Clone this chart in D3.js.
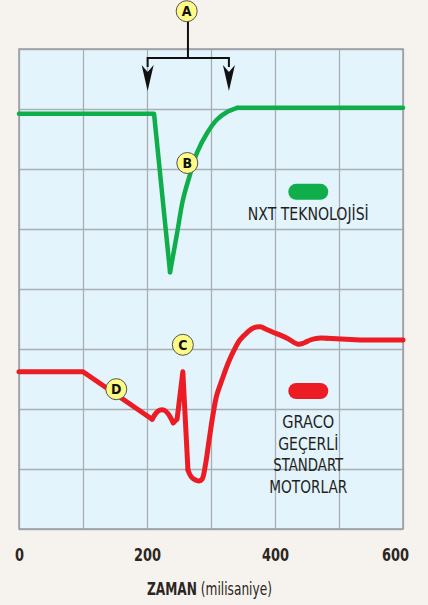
<!DOCTYPE html>
<html>
<head>
<meta charset="utf-8">
<script src="https://cdn.jsdelivr.net/npm/d3@7"></script>
<style>
  html, body { margin: 0; padding: 0; background: #f6f3ee; }
  text { font-family: "Liberation Sans Narrow", "DejaVu Sans Condensed", "Liberation Sans", sans-serif; }
</style>
</head>
<body>
<div id="chart"></div>
<script>
// time axis (ms)
const xTicks = [0, 200, 400, 600];

// NXT line
const greenTime  = [0, 211, 236, 247, 256, 267, 278, 294, 309, 325, 341, 600];
const greenValue = [6.92, 6.92, 4.28, 4.93, 5.48, 5.90, 6.27, 6.60, 6.82, 6.95, 7.02, 7.02];

// standard motor line
const redTime  = [0, 100, 208, 214, 220, 227, 233, 241, 247, 256, 264, 269, 275, 281, 286, 291, 297, 303, 309, 317, 327, 336, 345, 356, 366, 377, 386, 397, 419, 436, 445, 455, 467, 481, 533, 600];
const redValue = [2.62, 2.62, 1.83, 1.93, 1.98, 1.98, 1.92, 1.77, 1.83, 2.62, 0.98, 0.87, 0.82, 0.80, 0.83, 1.05, 1.48, 1.90, 2.23, 2.48, 2.77, 2.98, 3.15, 3.27, 3.35, 3.37, 3.33, 3.28, 3.18, 3.08, 3.10, 3.15, 3.18, 3.18, 3.15, 3.15];

const legendGreen = ['NXT TEKNOLOJİSİ'];
const legendRed = ['GRACO', 'GEÇERLİ', 'STANDART', 'MOTORLAR'];

const margin = { top: 49, right: 25, bottom: 76, left: 19 };
const width = 428 - margin.left - margin.right;
const height = 605 - margin.top - margin.bottom;

const svg = d3.select('#chart')
  .append('svg')
  .attr('width', 428)
  .attr('height', 605);

svg.append('rect')
  .attr('width', 428)
  .attr('height', 605)
  .attr('fill', '#f6f3ee');

const g = svg.append('g')
  .attr('transform', `translate(${margin.left},${margin.top})`);

const x = d3.scaleLinear().domain([0, 600]).range([0, width]);
const y = d3.scaleLinear().domain([0, 8]).range([height, 0]);

// plot background
g.append('rect')
  .attr('width', width)
  .attr('height', height)
  .attr('fill', '#e3f4fd');

// grid
g.append('g')
  .attr('class', 'grid')
  .call(d3.axisBottom(x).tickValues(d3.range(0, 601, 100)).tickSize(height).tickFormat(''))
  .call(a => a.select('.domain').remove());
g.append('g')
  .attr('class', 'grid')
  .call(d3.axisLeft(y).tickValues(d3.range(0, 9, 1)).tickSize(-width).tickFormat(''))
  .call(a => a.select('.domain').remove());
g.selectAll('.grid line')
  .attr('stroke', '#a9aeb3')
  .attr('stroke-width', 1.3);

// border
g.append('rect')
  .attr('width', width)
  .attr('height', height)
  .attr('fill', 'none')
  .attr('stroke', '#9da1a6')
  .attr('stroke-width', 1.6);

// x axis labels
const xAxis = g.append('g')
  .attr('transform', `translate(0,${height})`)
  .call(d3.axisBottom(x).tickValues(xTicks).tickSize(0).tickPadding(19));
xAxis.select('.domain').remove();
xAxis.selectAll('text')
  .attr('font-size', 18)
  .attr('font-weight', 'bold')
  .attr('fill', '#2b2622')
  .attr('dx', d => d === 600 ? -8 : 0)
  .attr('textLength', d => d === 0 ? 9 : 27)
  .attr('lengthAdjust', 'spacingAndGlyphs');

// axis title, squeezed with a scale so the pieces keep their own widths
const titleG = svg.append('g');
const title = titleG.append('text')
  .attr('font-size', 17)
  .attr('fill', '#2b2622');
title.append('tspan').attr('font-weight', 'bold').text('ZAMAN');
title.append('tspan').text(' (milisaniye)');
const tLen = title.node().getComputedTextLength();
titleG.attr('transform', `translate(147,595) scale(${125 / tLen},1)`);

// lines: sharp parts straight, smooth parts curved
function drawLine(times, values, pieces, color, w) {
  const pts = d3.zip(times, values);
  pieces.forEach(p => {
    const line = d3.line()
      .x(d => x(d[0]))
      .y(d => y(d[1]))
      .curve(p.smooth ? d3.curveCatmullRom.alpha(0.5) : d3.curveLinear);
    g.append('path')
      .datum(pts.slice(p.from, p.to + 1))
      .attr('d', line)
      .attr('fill', 'none')
      .attr('stroke', color)
      .attr('stroke-width', w)
      .attr('stroke-linejoin', 'round')
      .attr('stroke-linecap', 'round');
  });
}

drawLine(redTime, redValue, [
  { from: 0, to: 2, smooth: false },
  { from: 2, to: 7, smooth: true },
  { from: 7, to: 10, smooth: false },
  { from: 10, to: 33, smooth: true },
  { from: 33, to: redTime.length - 1, smooth: false }
], '#ec1c24', 5);

drawLine(greenTime, greenValue, [
  { from: 0, to: 2, smooth: false },
  { from: 2, to: 10, smooth: true },
  { from: 10, to: greenTime.length - 1, smooth: false }
], '#0fae4b', 4.5);

// bracket for A
const bx = 264, bLeft = 201, bRight = 328, bTop = 7.85, bTip = 7.3;
g.append('path')
  .attr('d', `M${x(bx)},${y(8.63)} V${y(bTop)} M${x(bLeft)},${y(bTip) - 24} V${y(bTop)} H${x(bRight)} V${y(bTip) - 24}`)
  .attr('fill', 'none')
  .attr('stroke', '#111')
  .attr('stroke-width', 2);
[bLeft, bRight].forEach(t => {
  g.append('path')
    .attr('transform', `translate(${x(t)},${y(bTip)})`)
    .attr('d', 'M0,0 L-6,-26 L0,-19 L6,-26 Z')
    .attr('fill', '#111');
});

// callout circles
const callouts = [
  { label: 'A', t: 262, v: 8.63 },
  { label: 'B', t: 263, v: 6.1 },
  { label: 'C', t: 256, v: 3.07 },
  { label: 'D', t: 152, v: 2.33 }
];
const co = g.selectAll('g.callout')
  .data(callouts)
  .enter().append('g')
  .attr('class', 'callout')
  .attr('transform', d => `translate(${x(d.t)},${y(d.v)})`);
co.append('circle')
  .attr('r', 10.5)
  .attr('fill', '#fdfb86')
  .attr('stroke', '#55524a')
  .attr('stroke-width', 1);
co.append('text')
  .attr('text-anchor', 'middle')
  .attr('dy', '0.36em')
  .attr('font-family', 'Liberation Sans, Arial, sans-serif')
  .attr('font-weight', 'bold')
  .attr('font-size', 14)
  .attr('fill', '#111')
  .text(d => d.label);

// legend
const lx = 452;
g.append('rect')
  .attr('x', x(lx) - 20)
  .attr('y', y(5.62) - 8)
  .attr('width', 40)
  .attr('height', 16)
  .attr('rx', 8)
  .attr('fill', '#0fae4b');
g.append('text')
  .attr('x', x(lx))
  .attr('y', 220 - margin.top)
  .attr('text-anchor', 'middle')
  .attr('font-size', 18.5)
  .attr('fill', '#231f1c')
  .attr('textLength', 121)
  .attr('lengthAdjust', 'spacingAndGlyphs')
  .text(legendGreen[0]);

g.append('rect')
  .attr('x', x(lx) - 20)
  .attr('y', y(2.3) - 8)
  .attr('width', 40)
  .attr('height', 16)
  .attr('rx', 8)
  .attr('fill', '#ec1c24');
const redLens = [52, 60, 70, 78];
g.selectAll('text.legred')
  .data(legendRed)
  .enter().append('text')
  .attr('class', 'legred')
  .attr('x', x(lx))
  .attr('y', (d, i) => 428 - margin.top + i * 21.7)
  .attr('text-anchor', 'middle')
  .attr('font-size', 18.5)
  .attr('fill', '#231f1c')
  .attr('textLength', (d, i) => redLens[i])
  .attr('lengthAdjust', 'spacingAndGlyphs')
  .text(d => d);
</script>
</body>
</html>
